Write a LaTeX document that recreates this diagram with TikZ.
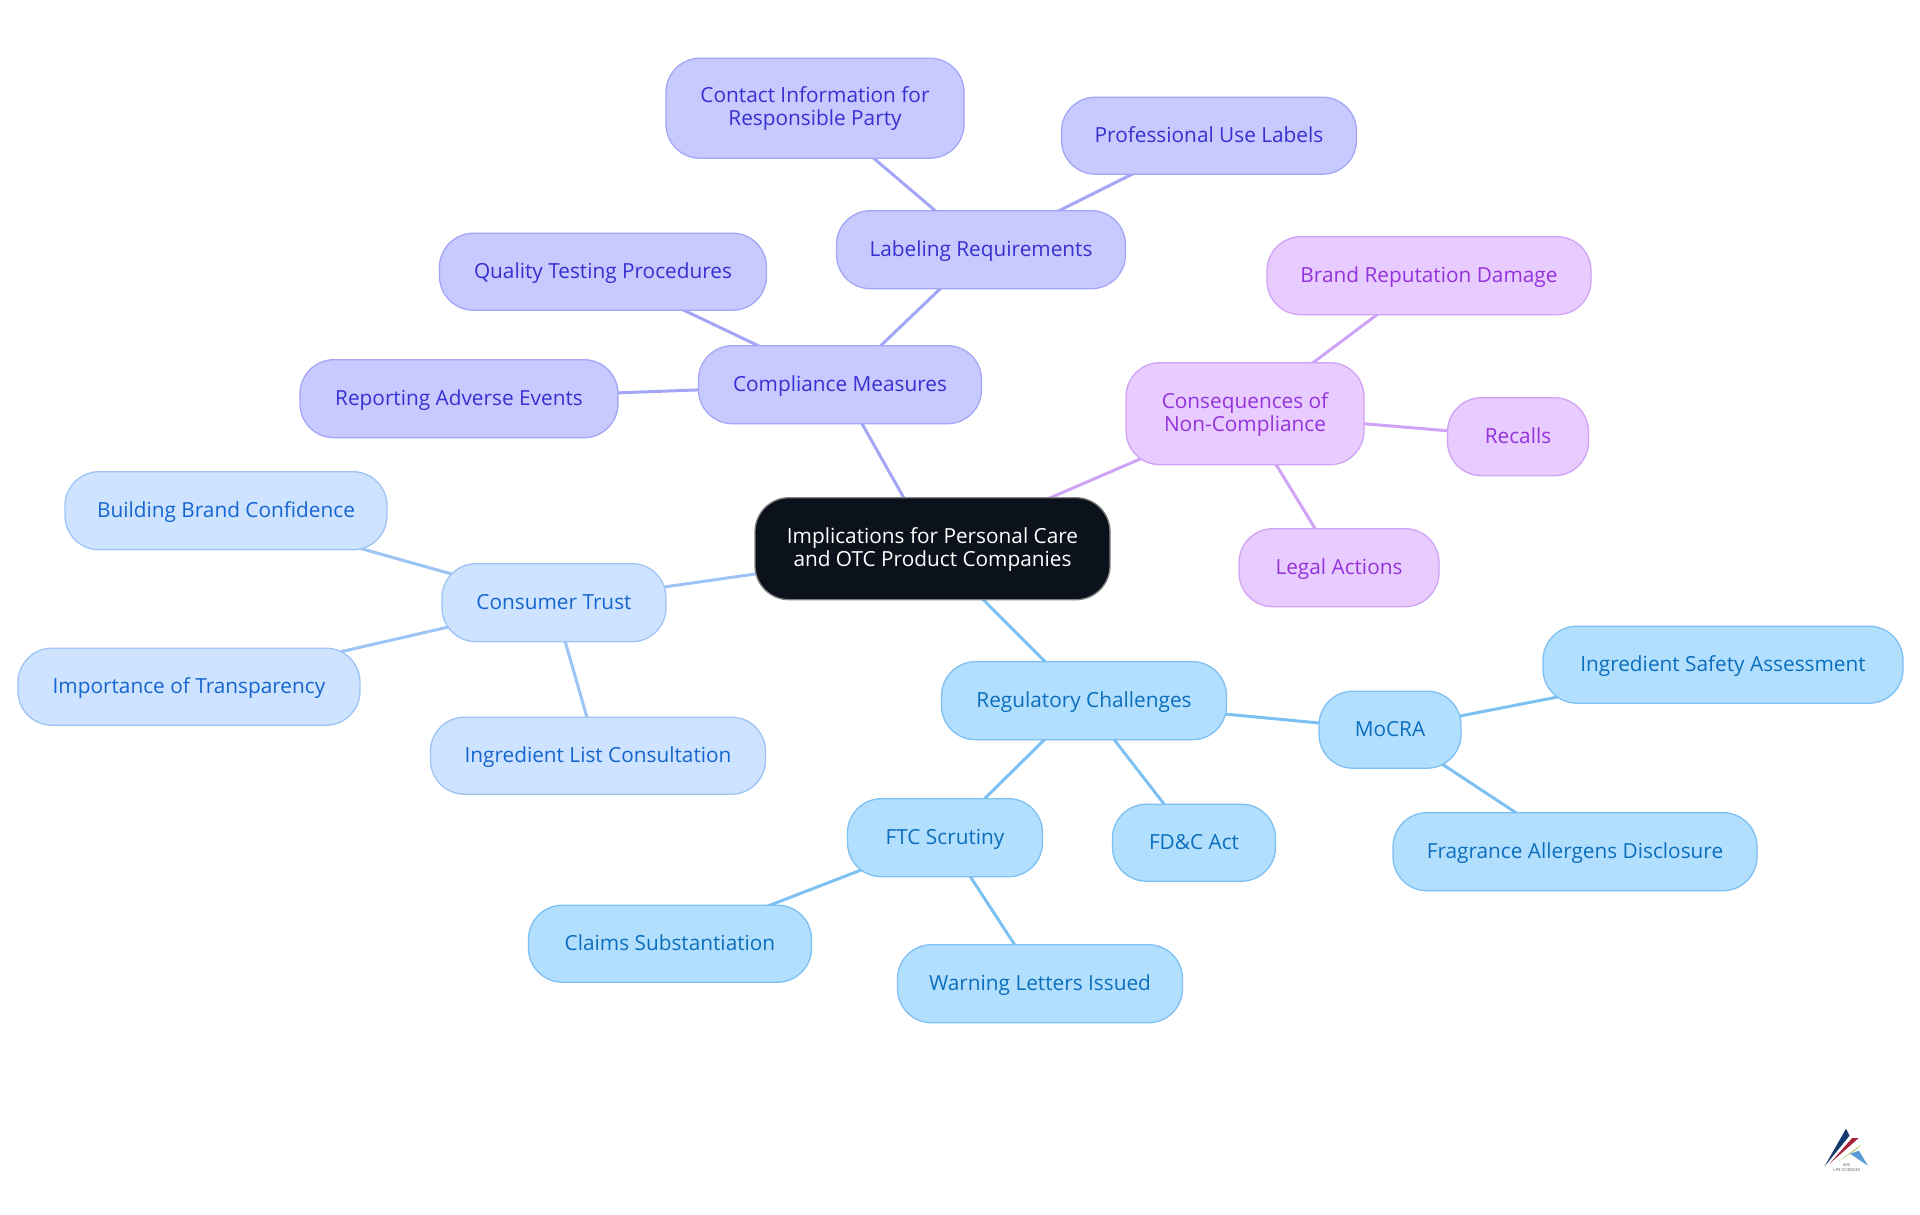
\documentclass[tikz,border=0pt]{standalone}
\usepackage{fontspec}
\setmainfont{Open Sans}
\usetikzlibrary{backgrounds}
\definecolor{rootfill}{HTML}{0C121B}
\definecolor{indigofill}{HTML}{C8CAFF}
\definecolor{indigoline}{HTML}{A3A6F7}
\definecolor{indigotext}{HTML}{3730D0}
\definecolor{violetfill}{HTML}{E8CBFF}
\definecolor{violetline}{HTML}{CFA3F5}
\definecolor{violettext}{HTML}{9333DB}
\definecolor{paleblue}{HTML}{CEE3FF}
\definecolor{palebluline}{HTML}{9CC4F5}
\definecolor{palebluetext}{HTML}{1565D0}
\definecolor{skyfill}{HTML}{B3DFFF}
\definecolor{skyline}{HTML}{7DC0F2}
\definecolor{skytext}{HTML}{0A6EBD}
\definecolor{logonavy}{HTML}{163A6E}
\definecolor{logored}{HTML}{A8203A}
\definecolor{logogreen}{HTML}{A8C050}
\definecolor{logoblue}{HTML}{5B9BD5}
\tikzset{
	topic/.style={draw, line width=1.3pt, rounded corners=34pt, align=center, inner sep=0pt,
		text height=17pt, text depth=3pt, font=\fontsize{20.8}{23}\selectfont},
	twolines/.style={text height=37.6pt},
	root/.style={topic, fill=rootfill, draw=gray, text=white},
	indigo/.style={topic, fill=indigofill, draw=indigoline, text=indigotext},
	violetbox/.style={topic, fill=violetfill, draw=violetline, text=violettext},
	pale/.style={topic, fill=paleblue, draw=palebluline, text=palebluetext},
	sky/.style={topic, fill=skyfill, draw=skyline, text=skytext},
	size/.style n args={2}{minimum width=#1pt, minimum height=#2pt}
}
\begin{document}
\begin{tikzpicture}[x=1pt, y=-1pt]
		\useasboundingbox (0, -0.7) rectangle (1920, 1214.3);
		\node[root, twolines, size={355}{102}] (implications) at (932.5, 548) {Implications for Personal Care\\and OTC Product Companies};

		\node[indigo, size={283}{78}] (compliance) at (840, 384) {Compliance Measures};
		\node[indigo, size={289}{78}] (labeling) at (981, 249) {Labeling Requirements};
		\node[indigo, twolines, size={298}{100}] (contact) at (815, 107.5) {Contact Information for\\Responsible Party};
		\node[indigo, size={295}{77}] (professional) at (1209, 135) {Professional Use Labels};
		\node[indigo, size={327}{77}] (quality) at (603, 271) {Quality Testing Procedures};
		\node[indigo, size={318}{78}] (reporting) at (459, 398) {Reporting Adverse Events};

		\node[violetbox, twolines, size={238}{102}] (consequences) at (1245, 413) {Consequences of\\Non-Compliance};
		\node[violetbox, size={324}{78}] (brand) at (1429, 275) {Brand Reputation Damage};
		\node[violetbox, size={141}{78}] (recalls) at (1518, 436) {Recalls};
		\node[violetbox, size={200}{78}] (legal) at (1339, 567) {Legal Actions};

		\node[pale, size={224}{78}] (consumer) at (554, 602) {Consumer Trust};
		\node[pale, size={322}{78}] (building) at (226, 510) {Building Brand Confidence};
		\node[pale, size={342}{77}] (transparency) at (189, 686) {Importance of Transparency};
		\node[pale, size={335}{77}] (ingredients) at (598, 755) {Ingredient List Consultation};

		\node[sky, size={285}{78}] (regulatory) at (1084, 700) {Regulatory Challenges};
		\node[sky, size={142}{77}] (mocra) at (1390, 729) {MoCRA};
		\node[sky, size={360}{77}] (safety) at (1723, 664) {Ingredient Safety Assessment};
		\node[sky, size={364}{78}] (fragrance) at (1575, 851) {Fragrance Allergens Disclosure};
		\node[sky, size={195}{78}] (ftc) at (945, 837) {FTC Scrutiny};
		\node[sky, size={163}{77}] (fdc) at (1194, 842) {FD\&C Act};
		\node[sky, size={283}{77}] (claims) at (670, 943) {Claims Substantiation};
		\node[sky, size={285}{78}] (warning) at (1040, 983) {Warning Letters Issued};

		\begin{scope}[on background layer]
			\foreach \s/\t in {implications/compliance, compliance/labeling, labeling/contact, labeling/professional, compliance/quality, compliance/reporting} {
				\draw[indigoline, line width=3pt] (\s.center) -- (\t.center);
			}
			\foreach \s/\t in {implications/consequences, consequences/brand, consequences/recalls, consequences/legal} {
				\draw[violetline, line width=3pt] (\s.center) -- (\t.center);
			}
			\foreach \s/\t in {implications/consumer, consumer/building, consumer/transparency, consumer/ingredients} {
				\draw[palebluline, line width=3pt] (\s.center) -- (\t.center);
			}
			\foreach \s/\t in {implications/regulatory, regulatory/mocra, mocra/safety, mocra/fragrance, regulatory/ftc, regulatory/fdc, ftc/claims, ftc/warning} {
				\draw[skyline, line width=3pt] (\s.center) -- (\t.center);
			}
		\end{scope}

		% logo
		\fill[logonavy] (1824.3, 1166) -- (1846, 1128) -- (1849.5, 1135) -- cycle;
		\fill[logored] (1829.5, 1163) -- (1852, 1137.5) -- (1858.5, 1137.5) -- cycle;
		\fill[logogreen] (1836.5, 1162) -- (1862, 1143.5) -- (1856, 1149) -- cycle;
		\fill[logoblue] (1850, 1153) -- (1859, 1150) -- (1868, 1165) -- cycle;
		\node[inner sep=0pt, font=\fontsize{4}{4}\selectfont, text=black!70] (logotext) at (1846.7, 1164.5) {AVS};
		\node[inner sep=0pt, font=\fontsize{4}{4}\selectfont, text=black!70] (logosub) at (1846.7, 1169) {LIFE SCIENCES};
	\end{tikzpicture}
\end{document}
